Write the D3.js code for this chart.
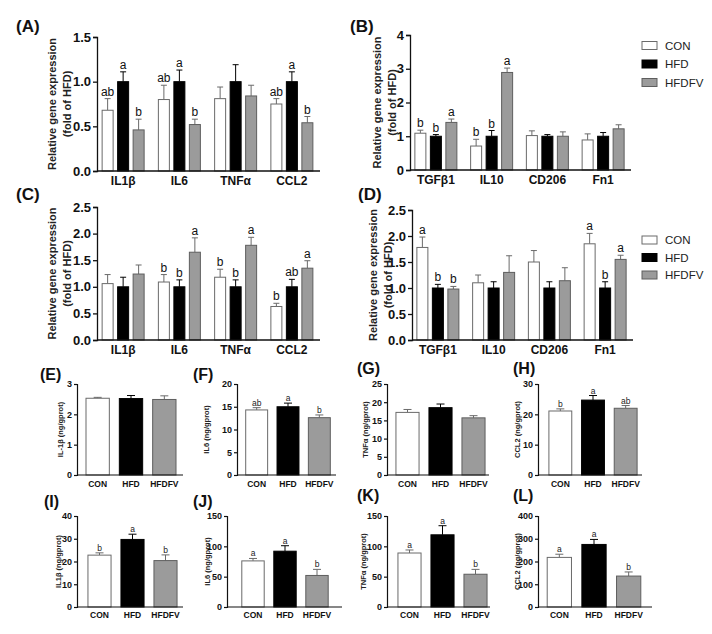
<!DOCTYPE html>
<html><head><meta charset="utf-8">
<script src="https://cdn.jsdelivr.net/npm/d3@7"></script>
<style>body{margin:0;background:#fff} svg{display:block;font-family:"Liberation Sans",Arial,sans-serif}</style>
</head><body><svg id="c" width="712" height="634"></svg>
<script>
// ---------- data ----------
const groups = ["CON", "HFD", "HFDFV"];
const genesInflam = ["IL1β", "IL6", "TNFα", "CCL2"];
const genesFib = ["TGFβ1", "IL10", "CD206", "Fn1"];

const meanA = [[0.68, 1.0, 0.46], [0.80, 1.0, 0.52], [0.81, 1.0, 0.84], [0.75, 1.0, 0.54]];
const errA  = [[0.13, 0.11, 0.12], [0.16, 0.13, 0.06], [0.13, 0.19, 0.12], [0.06, 0.11, 0.07]];
const letA  = [["ab", "a", "b"], ["ab", "a", "b"], ["", "", ""], ["ab", "a", "b"]];

const meanB = [[1.09, 1.0, 1.41], [0.71, 1.0, 2.89], [1.02, 1.0, 1.0], [0.89, 1.0, 1.22]];
const errB  = [[0.09, 0.05, 0.10], [0.20, 0.17, 0.13], [0.14, 0.05, 0.13], [0.18, 0.11, 0.12]];
const letB  = [["b", "b", "a"], ["b", "b", "a"], ["", "", ""], ["", "", ""]];

const meanC = [[1.06, 1.0, 1.24], [1.09, 1.0, 1.65], [1.18, 1.0, 1.78], [0.63, 1.0, 1.35]];
const errC  = [[0.17, 0.18, 0.17], [0.14, 0.13, 0.27], [0.15, 0.13, 0.15], [0.06, 0.14, 0.14]];
const letC  = [["", "", ""], ["b", "b", "a"], ["b", "b", "a"], ["b", "ab", "a"]];

const meanD = [[1.78, 1.0, 0.98], [1.10, 1.0, 1.30], [1.50, 1.0, 1.14], [1.85, 1.0, 1.55]];
const errD  = [[0.20, 0.07, 0.05], [0.15, 0.12, 0.32], [0.22, 0.12, 0.25], [0.20, 0.12, 0.08]];
const letD  = [["a", "b", "b"], ["", "", ""], ["", "", ""], ["a", "b", "a"]];

const meanE = [2.53, 2.52, 2.49], errE = [0.03, 0.10, 0.12], letE = ["", "", ""];
const meanF = [14.3, 15.0, 12.6], errF = [0.5, 0.8, 0.6], letF = ["ab", "a", "b"];
const meanG = [17.2, 18.5, 15.7], errG = [0.8, 1.0, 0.6], letG = ["", "", ""];
const meanH = [21.1, 24.7, 22.0], errH = [0.7, 1.5, 0.9], letH = ["b", "a", "ab"];
const meanI = [22.8, 29.7, 20.4], errI = [1.0, 2.3, 2.5], letI = ["b", "a", "b"];
const meanJ = [76, 92, 52], errJ = [4, 9, 10], letJ = ["a", "a", "b"];
const meanK = [89, 119, 54], errK = [5, 15, 8], letK = ["a", "a", "b"];
const meanL = [218, 275, 136], errL = [14, 22, 18], letL = ["a", "a", "b"];

const ticksA = [0, 0.5, 1.0, 1.5];
const ticksB = [0, 1, 2, 3, 4];
const ticksCD = [0, 0.5, 1.0, 1.5, 2.0, 2.5];
const ticksE = [0, 1, 2, 3], ticksF = [0, 5, 10, 15, 20], ticksG = [0, 5, 10, 15, 20, 25];
const ticksH = [0, 10, 20, 30], ticksI = [0, 10, 20, 30, 40], ticksJK = [0, 50, 100, 150];
const ticksL = [0, 100, 200, 300, 400];

// ---------- styles ----------
const fills = {CON: "#ffffff", HFD: "#000000", HFDFV: "#9b9b9b"};
const strokes = {CON: "#6a6a6a", HFD: "#000000", HFDFV: "#5e5e5e"};
const whisk = {CON: "#6a6a6a", HFD: "#000000", HFDFV: "#6a6a6a"};

const svg = d3.select("#c");

function panelLabel(txt, x, y, size) {
  svg.append("text").attr("x", x).attr("y", y).attr("font-size", size)
    .attr("font-weight", "bold").attr("fill", "#111").text(txt);
}

function genePanel(cfg) {
  const g = svg.append("g");
  const y = d3.scaleLinear().domain([0, cfg.max]).range([cfg.yb, cfg.yt]);
  const x0 = d3.scaleBand().domain(cfg.cats).range([cfg.x0 - 2, cfg.x1]).padding(0);
  const bw = x0.bandwidth();
  const x1 = d3.scaleBand().domain(groups).range([bw / 2 - 21, bw / 2 + 21]).paddingInner(0.29).paddingOuter(0);

  cfg.cats.forEach((c, i) => {
    groups.forEach((s, j) => {
      const m = cfg.mean[i][j], e = cfg.err[i][j];
      const bx = x0(c) + x1(s), w = x1.bandwidth(), cx = bx + w / 2;
      g.append("line").attr("x1", cx).attr("x2", cx).attr("y1", y(m)).attr("y2", y(m + e))
        .attr("stroke", whisk[s]).attr("stroke-width", 1);
      g.append("line").attr("x1", cx - 3).attr("x2", cx + 3).attr("y1", y(m + e)).attr("y2", y(m + e))
        .attr("stroke", whisk[s]).attr("stroke-width", 1);
      g.append("rect").attr("x", bx).attr("y", y(m)).attr("width", w).attr("height", y(0) - y(m))
        .attr("fill", fills[s]).attr("stroke", strokes[s]).attr("stroke-width", 1);
      if (cfg.let[i][j]) {
        g.append("text").attr("x", cx).attr("y", y(m + e) - 3).attr("text-anchor", "middle")
          .attr("font-size", 12).attr("fill", "#111").text(cfg.let[i][j]);
      }
    });
  });

  const ya = g.append("g").attr("transform", `translate(${cfg.x0},0)`)
    .call(d3.axisLeft(y).tickValues(cfg.ticks).tickFormat(d3.format(cfg.fmt)).tickSize(4).tickPadding(2));
  ya.select(".domain").attr("stroke", "#111").attr("stroke-width", 1.3);
  ya.selectAll(".tick line").attr("stroke", "#111").attr("stroke-width", 1.3);
  ya.selectAll("text").attr("font-size", 13).attr("font-weight", "bold").attr("fill", "#111")
    .attr("font-family", "Liberation Sans, Arial, sans-serif");

  const xs = d3.scaleBand().domain(cfg.cats).range([cfg.x0 - 2, cfg.x1]);
  const xa = g.append("g").attr("transform", `translate(0,${cfg.yb})`)
    .call(d3.axisBottom(xs).tickSize(0).tickPadding(5));
  xa.select(".domain").attr("d", `M${cfg.x0},0H${cfg.x1}`).attr("stroke", "#111").attr("stroke-width", 1.3);
  xa.selectAll("text").attr("font-size", 12).attr("font-weight", "bold").attr("fill", "#111")
    .attr("font-family", "Liberation Sans, Arial, sans-serif");

  const yc = (cfg.yb + cfg.yt) / 2;
  [["Relative gene expression", cfg.yl[0]], ["(fold of HFD)", cfg.yl[1]]].forEach(([t, xx]) => {
    g.append("text").attr("transform", `translate(${xx},${yc}) rotate(-90)`).attr("text-anchor", "middle")
      .attr("font-size", 11).attr("font-weight", "bold").attr("fill", "#222").text(t);
  });
}

function smallPanel(cfg) {
  const g = svg.append("g");
  const y = d3.scaleLinear().domain([0, cfg.max]).range([cfg.yb, cfg.yt]);
  const x = d3.scaleBand().domain(groups).range(cfg.band).paddingInner(0.3).paddingOuter(0.15);
  groups.forEach((s, j) => {
    const m = cfg.mean[j], e = cfg.err[j];
    const bx = x(s), w = x.bandwidth(), cx = bx + w / 2;
    g.append("line").attr("x1", cx).attr("x2", cx).attr("y1", y(m)).attr("y2", y(m + e))
      .attr("stroke", whisk[s]).attr("stroke-width", 1);
    g.append("line").attr("x1", cx - 4).attr("x2", cx + 4).attr("y1", y(m + e)).attr("y2", y(m + e))
      .attr("stroke", whisk[s]).attr("stroke-width", 1);
    g.append("rect").attr("x", bx).attr("y", y(m)).attr("width", w).attr("height", y(0) - y(m))
      .attr("fill", fills[s]).attr("stroke", strokes[s]).attr("stroke-width", 1);
    if (cfg.let[j]) {
      g.append("text").attr("x", cx).attr("y", y(m + e) - 2).attr("text-anchor", "middle")
        .attr("font-size", 8.5).attr("fill", "#222").text(cfg.let[j]);
    }
  });
  const ya = g.append("g").attr("transform", `translate(${cfg.x0},0)`)
    .call(d3.axisLeft(y).tickValues(cfg.ticks).tickFormat(d3.format("d")).tickSize(3).tickPadding(2));
  ya.select(".domain").attr("stroke", "#111").attr("stroke-width", 1.2);
  ya.selectAll(".tick line").attr("stroke", "#111").attr("stroke-width", 1.2);
  ya.selectAll("text").attr("font-size", 9).attr("font-weight", "bold").attr("fill", "#111")
    .attr("font-family", "Liberation Sans, Arial, sans-serif");
  const xa = g.append("g").attr("transform", `translate(0,${cfg.yb})`)
    .call(d3.axisBottom(x).tickSize(0).tickPadding(cfg.xpad));
  xa.select(".domain").attr("d", `M${cfg.x0},0H${cfg.x1}`).attr("stroke", "#111").attr("stroke-width", 1.2);
  xa.selectAll("text").attr("font-size", 8.5).attr("font-weight", "bold").attr("fill", "#111")
    .attr("font-family", "Liberation Sans, Arial, sans-serif");
  g.append("text").attr("transform", `translate(${cfg.ylx},${(cfg.yb + cfg.yt) / 2}) rotate(-90)`)
    .attr("text-anchor", "middle").attr("font-size", 7.5).attr("font-weight", "bold").attr("fill", "#222")
    .text(cfg.ylabel);
}

function legend(x, ys) {
  groups.forEach((s, j) => {
    svg.append("rect").attr("x", x).attr("y", ys[j] - 4).attr("width", 15).attr("height", 8)
      .attr("fill", fills[s]).attr("stroke", strokes[s]).attr("stroke-width", 1);
    svg.append("text").attr("x", x + 23).attr("y", ys[j] + 4).attr("font-size", 11.5)
      .attr("fill", "#222").text(s);
  });
}

// ---------- top panels ----------
genePanel({cats: genesInflam, mean: meanA, err: errA, let: letA, x0: 97, x1: 320, yb: 171, yt: 37,
  max: 1.5, ticks: ticksA, fmt: ".1f", yl: [56, 71]});
genePanel({cats: genesFib, mean: meanB, err: errB, let: letB, x0: 410, x1: 631, yb: 170, yt: 35,
  max: 4, ticks: ticksB, fmt: "d", yl: [381, 396]});
genePanel({cats: genesInflam, mean: meanC, err: errC, let: letC, x0: 97, x1: 320, yb: 340, yt: 207,
  max: 2.5, ticks: ticksCD, fmt: ".1f", yl: [56, 71]});
genePanel({cats: genesFib, mean: meanD, err: errD, let: letD, x0: 412, x1: 633, yb: 340, yt: 210,
  max: 2.5, ticks: ticksCD, fmt: ".1f", yl: [377, 392]});
legend(642, [45.5, 64, 82.5]);
legend(642, [240, 257.5, 275]);

panelLabel("(A)", 16, 32, 17);
panelLabel("(B)", 350, 32, 17);
panelLabel("(C)", 16, 200, 17);
panelLabel("(D)", 358, 200, 17);

// ---------- bottom panels ----------
smallPanel({mean: meanE, err: errE, let: letE, x0: 77, x1: 183, band: [81, 181], yb: 475, yt: 384, max: 3, ticks: ticksE, ylabel: "IL-1β (ng/gprot)", ylx: 63, xpad: 6});
smallPanel({mean: meanF, err: errF, let: letF, x0: 237, x1: 336, band: [241, 335], yb: 475, yt: 384, max: 20, ticks: ticksF, ylabel: "IL6 (ng/gprot)", ylx: 209, xpad: 6});
smallPanel({mean: meanG, err: errG, let: letG, x0: 387, x1: 489, band: [391, 490], yb: 475, yt: 384, max: 25, ticks: ticksG, ylabel: "TNFα (ng/gprot)", ylx: 368, xpad: 6});
smallPanel({mean: meanH, err: errH, let: letH, x0: 538, x1: 642, band: [544, 642], yb: 475, yt: 384, max: 30, ticks: ticksH, ylabel: "CCL2 (ng/gprot)", ylx: 520, xpad: 6});
smallPanel({mean: meanI, err: errI, let: letI, x0: 77, x1: 183, band: [83, 182], yb: 607, yt: 516, max: 40, ticks: ticksI, ylabel: "IL1β (ng/gprot)", ylx: 61, xpad: 5});
smallPanel({mean: meanJ, err: errJ, let: letJ, x0: 227, x1: 342, band: [237, 333], yb: 607, yt: 516, max: 150, ticks: ticksJK, ylabel: "IL6 (ng/gprot)", ylx: 210, xpad: 5});
smallPanel({mean: meanK, err: errK, let: letK, x0: 387, x1: 490, band: [393, 492], yb: 607, yt: 516, max: 150, ticks: ticksJK, ylabel: "TNFα (ng/gprot)", ylx: 366, xpad: 5});
smallPanel({mean: meanL, err: errL, let: letL, x0: 538, x1: 652, band: [542, 646], yb: 607, yt: 516, max: 400, ticks: ticksL, ylabel: "CCL2 (ng/gprot)", ylx: 520, xpad: 5});

panelLabel("(E)", 40, 380, 16);
panelLabel("(F)", 193, 380, 16);
panelLabel("(G)", 357, 374, 16);
panelLabel("(H)", 513, 374, 16);
panelLabel("(I)", 44, 507, 16);
panelLabel("(J)", 193, 507, 16);
panelLabel("(K)", 357, 501, 16);
panelLabel("(L)", 513, 501, 16);
</script></body></html>
